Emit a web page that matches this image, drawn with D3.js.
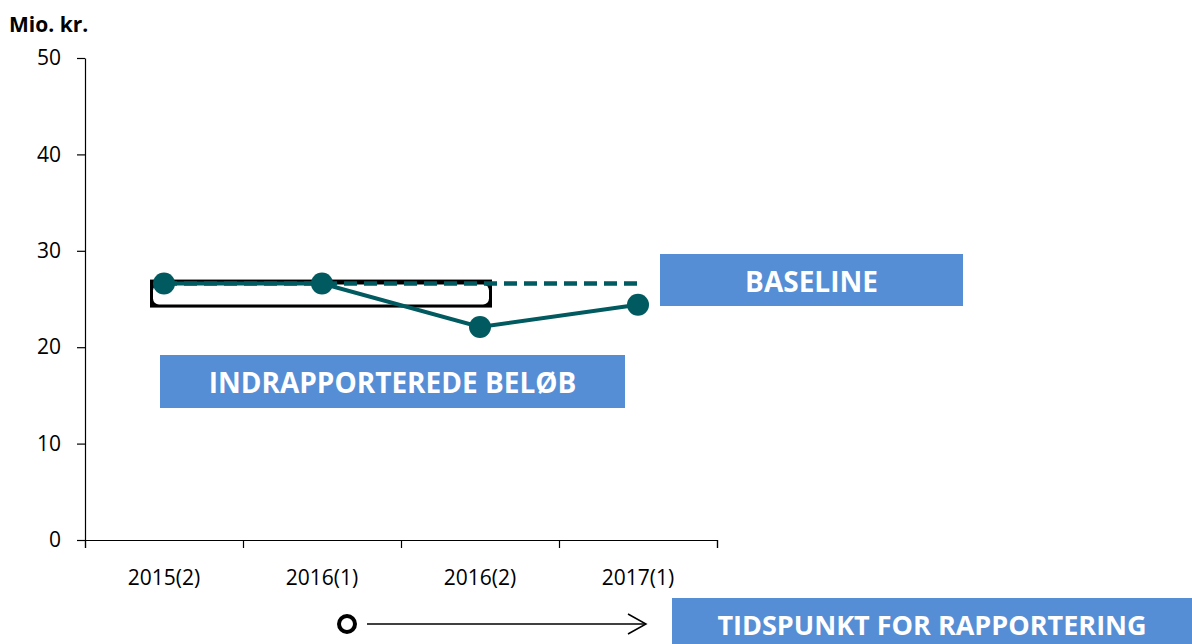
<!DOCTYPE html>
<html>
<head>
<meta charset="utf-8">
<script src="https://cdn.jsdelivr.net/npm/d3@7"></script>
<style>
  body { margin: 0; background: #fff; }
  text { font-family: "Open Sans", "Noto Sans", sans-serif; }
</style>
</head>
<body>
<script>
// data
var categories = ["2015(2)", "2016(1)", "2016(2)", "2017(1)"];
var reported = [26.6, 26.6, 22.1, 24.4];
var baseline = [26.6, 26.6, 26.6, 26.6];
var yTicks = [0, 10, 20, 30, 40, 50];

var W = 1192, H = 644;
var margin = {top: 58, left: 85},
  width = 632,
  height = 482;

var teal = "#005a5f", blue = "#558ed5";

var svg = d3.select("body").append("svg")
  .attr("width", W)
  .attr("height", H);

var g = svg.append("g")
  .attr("transform", "translate(" + margin.left + "," + margin.top + ")");

// scales
var x = d3.scaleBand().domain(categories).range([0, width]).padding(0);
var y = d3.scaleLinear().domain([0, 50]).range([height, 0]);
var xc = function(d) { return x(d) + x.bandwidth() / 2; };

// y axis
var yAxis = g.append("g")
  .call(d3.axisLeft(y).tickValues(yTicks).tickSize(8).tickSizeOuter(0));
yAxis.select(".domain").attr("stroke", "#000").attr("stroke-width", 1.2);
yAxis.selectAll(".tick line").attr("stroke", "#000").attr("stroke-width", 1.2);
yAxis.selectAll(".tick text")
  .attr("x", -24)
  .attr("font-size", 21)
  .attr("font-family", "Open Sans")
  .attr("fill", "#000");

// x axis, ticks at band edges
var xEdge = d3.scaleLinear().domain([0, categories.length]).range([0, width]);
var xAxis = g.append("g")
  .attr("transform", "translate(0," + height + ")")
  .call(d3.axisBottom(xEdge).tickValues(d3.range(categories.length + 1)).tickSize(8).tickFormat(""));
xAxis.select(".domain").attr("stroke", "#000").attr("stroke-width", 1.2);
xAxis.selectAll(".tick line").attr("stroke", "#000").attr("stroke-width", 1.2);

g.selectAll(".xlabel")
  .data(categories)
  .enter().append("text")
    .attr("class", "xlabel")
    .attr("x", xc)
    .attr("y", height + 45)
    .attr("text-anchor", "middle")
    .attr("font-size", 21)
    .text(function(d) { return d; });

// unit label
svg.append("text")
  .attr("x", 9)
  .attr("y", 32)
  .attr("font-size", 21)
  .attr("font-weight", "bold")
  .text("Mio. kr.");

// legend-ish frame behind the first segment
var frame = g.append("g");
frame.append("rect")
  .attr("x", 65).attr("y", y(26.6) - 4)
  .attr("width", 342).attr("height", 28)
  .attr("fill", "#000");
frame.append("rect")
  .attr("x", 68).attr("y", y(26.6) + 1)
  .attr("width", 336).attr("height", 20)
  .attr("rx", 6)
  .attr("fill", "#fff");

// baseline dashed
var line = d3.line()
  .x(function(d, i) { return xc(categories[i]); })
  .y(function(d) { return y(d); });

g.append("path")
  .datum(baseline)
  .attr("d", line)
  .attr("fill", "none")
  .attr("stroke", teal)
  .attr("stroke-width", 4.5)
  .attr("stroke-dasharray", "13,7");

// reported line
g.append("path")
  .datum(reported)
  .attr("d", line)
  .attr("fill", "none")
  .attr("stroke", teal)
  .attr("stroke-width", 4);

g.selectAll(".dot")
  .data(reported)
  .enter().append("circle")
    .attr("class", "dot")
    .attr("cx", function(d, i) { return xc(categories[i]); })
    .attr("cy", y)
    .attr("r", 11)
    .attr("fill", teal);

// labels in blue boxes
var boxes = [
  {x: 660, y: 254, w: 303, h: 52, text: "BASELINE", fs: 28},
  {x: 160, y: 355, w: 465, h: 53, text: "INDRAPPORTEREDE BELØB", fs: 28},
  {x: 672, y: 598, w: 520, h: 46, text: "TIDSPUNKT FOR RAPPORTERING", fs: 27, ty: 626}
];
var box = svg.selectAll(".box")
  .data(boxes)
  .enter().append("g")
    .attr("class", "box");
box.append("rect")
  .attr("x", function(d) { return d.x; })
  .attr("y", function(d) { return d.y; })
  .attr("width", function(d) { return d.w; })
  .attr("height", function(d) { return d.h; })
  .attr("fill", blue);
box.append("text")
  .attr("x", function(d) { return d.x + d.w / 2; })
  .attr("y", function(d) { return d.ty || (d.y + d.h / 2 + 2); })
  .attr("dy", ".35em")
  .attr("text-anchor", "middle")
  .attr("fill", "#fff")
  .attr("font-size", function(d) { return d.fs; })
  .attr("font-weight", "bold")
  .text(function(d) { return d.text; });

// time arrow
svg.append("circle")
  .attr("cx", 347).attr("cy", 624).attr("r", 8)
  .attr("fill", "none").attr("stroke", "#000").attr("stroke-width", 4);
svg.append("line")
  .attr("x1", 367).attr("y1", 624).attr("x2", 645).attr("y2", 624)
  .attr("stroke", "#000").attr("stroke-width", 1.5);
svg.append("path")
  .attr("d", "M628,614 L646,624 L628,634")
  .attr("fill", "none").attr("stroke", "#000").attr("stroke-width", 1.5);
</script>
</body>
</html>
